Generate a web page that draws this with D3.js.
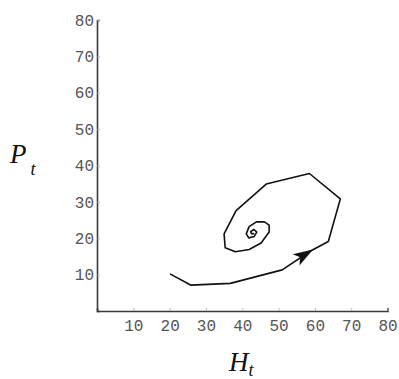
<!DOCTYPE html>
<html>
<head>
<meta charset="utf-8">
<script src="https://cdn.jsdelivr.net/npm/d3@7"></script>
<style>
  body { margin: 0; background: #fff; }
  svg { display: block; }
</style>
</head>
<body>
<svg width="399" height="379"></svg>
<script>
const width = 399,
    height = 379;

// trajectory (H_t, P_t)
const hVals = [20.1, 25.9, 36.7, 51.0, 58.8, 63.7, 67.0, 58.5, 46.6, 38.3, 35.0, 35.3, 38.1, 41.9,
    45.2, 47.4, 47.4, 46.1, 43.9, 41.9, 41.1, 41.8, 43.3, 44.0, 43.2, 42.3, 42.6, 43.3];
const pVals = [10.2, 7.1, 7.6, 11.3, 16.5, 19.1, 30.8, 37.8, 34.9, 27.6, 21.2, 17.4, 16.3, 16.9,
    18.7, 21.7, 23.6, 24.5, 24.5, 23.2, 21.2, 20.1, 20.5, 21.7, 22.4, 21.8, 21.2, 21.3];
const tickVals = [10, 20, 30, 40, 50, 60, 70, 80];
const arrowAt = 4; // index of the point the arrowhead sits on

const x = d3.scaleLinear().domain([0, 80]).range([97, 387.5]),
    y = d3.scaleLinear().domain([0, 80]).range([311, 20]);

const svg = d3.select("svg");
const pts = hVals.map((h, i) => [h, pVals[i]]);

// axes
const xAxis = svg.append("g")
    .attr("transform", "translate(0," + y(0) + ")")
    .call(d3.axisBottom(x).tickValues(tickVals).tickSize(-3).tickPadding(9));
const yAxis = svg.append("g")
    .attr("transform", "translate(" + x(0) + ",0)")
    .call(d3.axisLeft(y).tickValues(tickVals).tickSize(-3).tickPadding(3));

[xAxis, yAxis].forEach(a => {
    a.select(".domain").attr("stroke", "#3a3a3a").attr("stroke-width", 1.6);
    a.selectAll(".tick line").attr("stroke", "#aaa").attr("stroke-width", 0.8);
    a.selectAll(".tick text")
        .attr("fill", "#555")
        .style("font-family", "'Liberation Mono', 'DejaVu Sans Mono', monospace")
        .style("font-size", "16px");
});

// trajectory
const line = d3.line().x(d => x(d[0])).y(d => y(d[1]));
svg.append("path")
    .datum(pts)
    .attr("d", line)
    .attr("fill", "none")
    .attr("stroke", "#111")
    .attr("stroke-width", 1.6)
    .attr("stroke-linejoin", "round");

// arrowhead along the segment
const a0 = pts[arrowAt - 1], a1 = pts[arrowAt + 1];
const ang = Math.atan2(y(a1[1]) - y(a0[1]), x(a1[0]) - x(a0[0])) * 180 / Math.PI;
svg.append("path")
    .attr("d", "M3,0 L-17,-6.5 L-12,0 L-17,6.5 Z")
    .attr("fill", "#111")
    .attr("transform", "translate(" + x(pts[arrowAt][0]) + "," + y(pts[arrowAt][1]) + ") rotate(" + ang + ")");

// axis titles
const titleFont = "'Liberation Serif', 'DejaVu Serif', serif";
const pt = svg.append("text")
    .attr("x", 10).attr("y", 163)
    .style("font-family", titleFont).style("font-style", "italic")
    .style("font-size", "27px").attr("fill", "#111");
pt.append("tspan").text("P");
pt.append("tspan").attr("dy", 12).attr("dx", 4).style("font-size", "18px").text("t");

const ht = svg.append("text")
    .attr("x", 229).attr("y", 371)
    .style("font-family", titleFont).style("font-style", "italic")
    .style("font-size", "27px").attr("fill", "#111");
ht.append("tspan").text("H");
ht.append("tspan").attr("dy", 5).style("font-size", "18px").text("t");
</script>
</body>
</html>
